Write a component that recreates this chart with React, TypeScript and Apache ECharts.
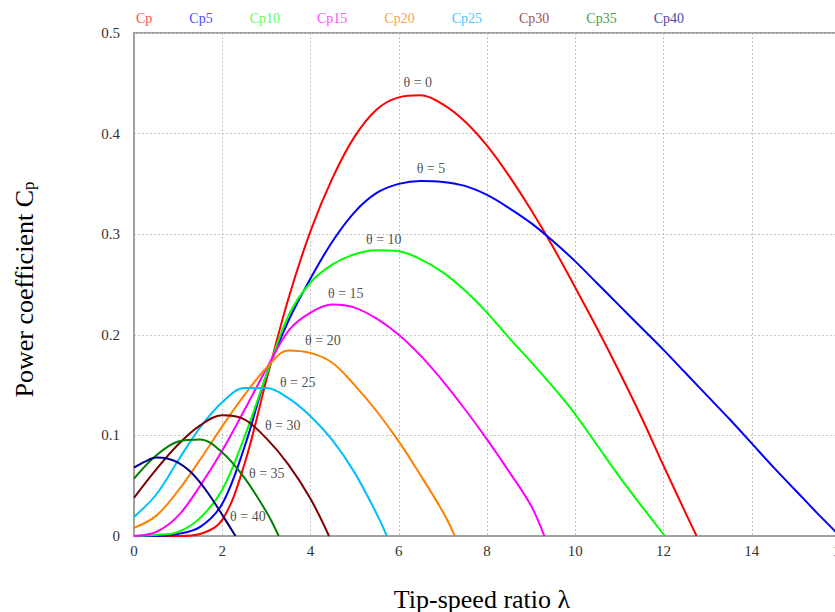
import React, { useEffect, useRef } from "react";
import * as echarts from "echarts";

// ---- data ----
const seriesNames = ["Cp", "Cp5", "Cp10", "Cp15", "Cp20", "Cp25", "Cp30", "Cp35", "Cp40"];
const thetaLabels = ["θ = 0", "θ = 5", "θ = 10", "θ = 15", "θ = 20", "θ = 25", "θ = 30", "θ = 35", "θ = 40"];

// θ = 0
const lam0 = [0, 0.5, 1.0, 1.5, 2.0, 2.5, 3.0, 3.5, 4.0, 4.5, 5.0, 5.5, 6.0, 6.5, 7.0, 7.5, 8.0, 8.5, 9.0, 9.5, 10.0, 10.5, 11.0, 11.5, 12.0, 12.5, 12.75];
const cp0 = [0, 0, 0, 0.002, 0.016, 0.071, 0.155, 0.236, 0.303, 0.356, 0.397, 0.424, 0.436, 0.438, 0.429, 0.412, 0.388, 0.358, 0.324, 0.287, 0.247, 0.206, 0.163, 0.118, 0.07, 0.023, 0];
// θ = 5
const lam5 = [0, 0.5, 1.0, 1.5, 2.0, 2.5, 3.0, 3.5, 4.0, 4.5, 5.0, 5.5, 6.0, 6.5, 7.0, 7.5, 8.0, 8.5, 9.0, 9.5, 10.0, 10.5, 11.0, 11.5, 12.0, 12.5, 13.0, 13.5, 14.0, 14.5, 15.0, 15.5, 16.0];
const cp5 = [0, 0, 0.002, 0.009, 0.032, 0.088, 0.16, 0.214, 0.256, 0.293, 0.322, 0.341, 0.35, 0.353, 0.352, 0.348, 0.339, 0.326, 0.311, 0.293, 0.273, 0.251, 0.229, 0.207, 0.185, 0.162, 0.139, 0.116, 0.092, 0.068, 0.045, 0.022, 0];
// θ = 10
const lam10 = [0, 0.5, 1.0, 1.5, 2.0, 2.5, 3.0, 3.5, 4.0, 4.5, 5.0, 5.5, 6.0, 6.5, 7.0, 7.5, 8.0, 8.5, 9.0, 9.5, 10.0, 10.5, 11.0, 11.5, 12.03];
const cp10 = [0, 0.001, 0.004, 0.018, 0.046, 0.098, 0.16, 0.219, 0.252, 0.27, 0.28, 0.284, 0.283, 0.275, 0.262, 0.244, 0.222, 0.197, 0.173, 0.148, 0.121, 0.09, 0.059, 0.03, 0];
// θ = 15
const lam15 = [0, 0.5, 1.0, 1.5, 2.0, 2.5, 3.0, 3.5, 4.0, 4.5, 5.0, 5.5, 6.0, 6.5, 7.0, 7.5, 8.0, 8.5, 9.0, 9.3];
const cp15 = [0, 0.004, 0.02, 0.05, 0.085, 0.125, 0.166, 0.204, 0.222, 0.23, 0.227, 0.216, 0.2, 0.179, 0.154, 0.126, 0.096, 0.064, 0.03, 0];
// θ = 20
const lam20 = [0, 0.5, 1.0, 1.5, 2.0, 2.5, 3.0, 3.5, 4.0, 4.5, 5.0, 5.5, 6.0, 6.5, 7.0, 7.27];
const cp20 = [0.008, 0.02, 0.045, 0.076, 0.109, 0.14, 0.167, 0.1845, 0.182, 0.172, 0.15, 0.124, 0.094, 0.06, 0.024, 0];
// θ = 25
const lam25 = [0, 0.5, 1.0, 1.5, 2.0, 2.5, 3.0, 3.5, 4.0, 4.5, 5.0, 5.5, 5.73];
const cp25 = [0.019, 0.041, 0.075, 0.108, 0.133, 0.147, 0.147, 0.137, 0.119, 0.095, 0.063, 0.022, 0];
// θ = 30
const lam30 = [0, 0.5, 1.0, 1.5, 2.0, 2.5, 3.0, 3.5, 4.0, 4.42];
const cp30 = [0.038, 0.066, 0.091, 0.11, 0.12, 0.116, 0.097, 0.071, 0.037, 0];
// θ = 35
const lam35 = [0, 0.5, 1.0, 1.5, 2.0, 2.5, 3.0, 3.28];
const cp35 = [0.057, 0.08, 0.094, 0.096, 0.083, 0.058, 0.024, 0];
// θ = 40
const lam40 = [0, 0.25, 0.5, 0.75, 1.0, 1.25, 1.5, 1.75, 2.0, 2.3];
const cp40 = [0.068, 0.074, 0.078, 0.077, 0.073, 0.065, 0.053, 0.038, 0.021, 0];

// where each θ annotation sits (data coordinates)
const labelLam = [6.43, 6.73, 5.66, 4.8, 4.28, 3.71, 3.37, 3.01, 2.58];
const labelCp = [0.451, 0.365, 0.295, 0.2415, 0.194, 0.153, 0.11, 0.062, 0.019];

const xTicks = { min: 0, max: 16, interval: 2 };
const yTicks = { min: 0, max: 0.5, interval: 0.1 };

const allLam = [lam0, lam5, lam10, lam15, lam20, lam25, lam30, lam35, lam40];
const allCp = [cp0, cp5, cp10, cp15, cp20, cp25, cp30, cp35, cp40];

const lineColors = ["#ff0000", "#0000ff", "#00ff00", "#ff00ff", "#ff8000", "#00bfff", "#800000", "#008000", "#000080"];
const legendColors = ["#ff4a4a", "#4a4aff", "#5cff5c", "#ff4aff", "#ffa050", "#4ac8ff", "#a05050", "#4aa04a", "#4a4aa0"];

const SERIF = "'Liberation Serif', 'DejaVu Serif', serif";

export default function App() {
  const ref = useRef<HTMLDivElement>(null);
  useEffect(() => {
    document.body.style.margin = "0";
    if (!ref.current) return;
    const chart = echarts.init(ref.current, null, { renderer: "svg" });
    const lineSeries = seriesNames.map((name, i) => ({
      name,
      type: "line",
      data: allLam[i].map((l, j) => [l, allCp[i][j]]),
      smooth: 0.35,
      showSymbol: false,
      symbol: "none",
      clip: true,
      lineStyle: { color: lineColors[i], width: 2 },
      itemStyle: { color: lineColors[i] },
      z: 3,
    }));
    const option = {
      animation: false,
      backgroundColor: "#ffffff",
      legend: {
        data: seriesNames.map((n, i) => ({ name: n, icon: "none", textStyle: { color: legendColors[i] } })),
        left: 126,
        top: 6,
        itemWidth: 0,
        itemHeight: 14,
        itemGap: 32,
        textStyle: { fontFamily: SERIF, fontSize: 14 },
        selectedMode: false,
      },
      grid: {
        left: 134,
        top: 33,
        width: 706,
        height: 503,
        outerBoundsMode: "none",
        containLabel: false,
        show: true,
        borderColor: "#a0a0a0",
        borderWidth: 2,
        backgroundColor: "transparent",
      },
      xAxis: {
        type: "value",
        min: xTicks.min,
        max: xTicks.max,
        interval: xTicks.interval,
        name: "Tip-speed ratio λ",
        nameLocation: "middle",
        nameGap: 50,
        nameTextStyle: { fontFamily: SERIF, fontSize: 26, color: "#000", padding: [0, 10, 0, 0] },
        axisLine: { lineStyle: { color: "#a0a0a0", width: 2 } },
        axisTick: { show: false },
        axisLabel: { fontFamily: SERIF, fontSize: 15, color: "#333", margin: 7 },
        splitLine: { show: true, lineStyle: { color: "#c4c4c4", type: [2, 2], width: 1 } },
      },
      yAxis: {
        type: "value",
        min: yTicks.min,
        max: yTicks.max,
        interval: yTicks.interval,
        name: "Power coefficient C{p|p}",
        nameLocation: "middle",
        nameGap: 97,
        nameTextStyle: {
          fontFamily: SERIF,
          fontSize: 26,
          color: "#000",
          padding: [0, 10, 0, 0],
          rich: { p: { fontFamily: SERIF, fontSize: 17, color: "#000", verticalAlign: "bottom", padding: [8, 0, 0, 0] } },
        },
        axisLine: { show: true, lineStyle: { color: "#a0a0a0", width: 2 } },
        axisTick: { show: false },
        axisLabel: { fontFamily: SERIF, fontSize: 15, color: "#333", margin: 14 },
        splitLine: { show: true, lineStyle: { color: "#c4c4c4", type: [2, 2], width: 1 } },
      },
      series: [
        ...lineSeries,
        {
          name: "labels",
          type: "scatter",
          symbolSize: 0,
          silent: true,
          data: labelLam.map((l, i) => ({ value: [l, labelCp[i]], name: thetaLabels[i] })),
          label: {
            show: true,
            position: "inside",
            formatter: (p: any) => p.name,
            fontFamily: SERIF,
            fontSize: 14,
            color: "#222",
          },
          z: 5,
        },
      ],
    };
    chart.setOption(option as any);
    return () => chart.dispose();
  }, []);
  return <div ref={ref} style={{ width: 835, height: 612 }} />;
}
